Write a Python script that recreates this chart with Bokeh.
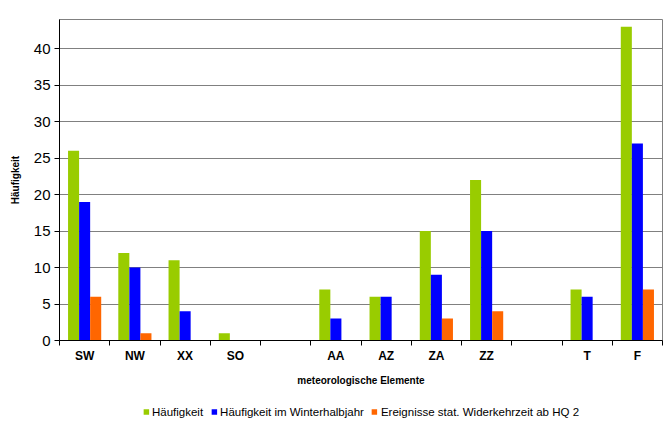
import numpy as np
from bokeh.plotting import figure
from bokeh.models import FixedTicker, Range1d, Legend, LegendItem
from bokeh.layouts import column
from bokeh.embed import file_html
from bokeh.resources import INLINE

categories = ["SW", "NW", "XX", "SO", "", "AA", "AZ", "ZA", "ZZ", "", "T", "F"]
haeufigkeit = [26, 12, 11, 1, 0, 7, 6, 15, 22, 0, 7, 43]
winter = [19, 10, 4, 0, 0, 3, 6, 9, 15, 0, 6, 27]
ereignisse = [6, 1, 0, 0, 0, 0, 0, 3, 4, 0, 0, 7]
series_names = ["Häufigkeit", "Häufigkeit im Winterhalbjahr", "Ereignisse stat. Widerkehrzeit ab HQ 2"]
colors = ["#99CC00", "#0000FF", "#FF6600"]
y_ticks = [0, 5, 10, 15, 20, 25, 30, 35, 40]

n = len(categories)
centers = np.arange(n) + 0.5
bw = 0.22

p = figure(frame_width=603, frame_height=321, output_backend="svg", toolbar_location=None,
           x_range=Range1d(0, n), y_range=Range1d(0, 44),
           min_border_left=59, min_border_top=19, min_border_right=5, min_border_bottom=50)

for off, vals, c in zip([-bw, 0, bw], [haeufigkeit, winter, ereignisse], colors):
    p.vbar(x=centers + off, top=vals, width=bw, bottom=0, fill_color=c, line_color=None)

# axes
p.xaxis.ticker = FixedTicker(ticks=list(centers), minor_ticks=list(np.arange(n + 1)))
p.xaxis.major_label_overrides = {float(c): lab for c, lab in zip(centers, categories)}
p.xaxis.major_tick_line_color = None
p.xaxis.minor_tick_in = 0
p.xaxis.minor_tick_out = 5
p.xaxis.minor_tick_line_color = "black"
p.xaxis.axis_line_color = "black"
p.xaxis.major_label_text_font = "Liberation Sans"
p.xaxis.major_label_text_font_style = "bold"
p.xaxis.major_label_text_font_size = "12px"
p.xaxis.major_label_text_color = "black"
p.xaxis.major_label_standoff = 2
p.xaxis.axis_label = "meteorologische Elemente"
p.xaxis.axis_label_text_font = "Liberation Sans"
p.xaxis.axis_label_text_font_style = "bold"
p.xaxis.axis_label_text_font_size = "10px"
p.xaxis.axis_label_text_color = "black"
p.xaxis.axis_label_standoff = 9

p.yaxis.ticker = FixedTicker(ticks=y_ticks)
p.yaxis.minor_tick_line_color = None
p.yaxis.major_tick_in = 0
p.yaxis.major_tick_out = 5
p.yaxis.major_tick_line_color = "black"
p.yaxis.axis_line_color = "black"
p.yaxis.major_label_text_font = "Liberation Sans"
p.yaxis.major_label_text_font_size = "15px"
p.yaxis.major_label_text_color = "black"
p.yaxis.major_label_standoff = 4
p.yaxis.axis_label = "Häufigkeit"
p.yaxis.axis_label_text_font = "Liberation Sans"
p.yaxis.axis_label_text_font_style = "bold"
p.yaxis.axis_label_text_font_size = "10px"
p.yaxis.axis_label_text_color = "black"
p.yaxis.axis_label_standoff = 10

p.xgrid.grid_line_color = None
p.ygrid.grid_line_color = "#808080"
p.ygrid.grid_line_width = 1
p.outline_line_color = "#808080"
p.outline_line_width = 1
p.background_fill_color = "white"
p.border_fill_color = "white"

# legend strip below the chart
lg = figure(width=667, height=43, output_backend="svg", toolbar_location=None,
            x_axis_location=None, y_axis_location=None,
            x_range=Range1d(0, 1), y_range=Range1d(0, 1),
            min_border_left=16, min_border_right=0, min_border_top=0, min_border_bottom=0)
lg.outline_line_color = None
lg.xgrid.grid_line_color = None
lg.ygrid.grid_line_color = None
items = []
for nm, c in zip(series_names, colors):
    r = lg.vbar(x=[-5], top=[-5], bottom=[-5], width=0.0, fill_color=c, line_color=None)
    items.append(LegendItem(label=nm, renderers=[r]))
legend = Legend(items=items, orientation="horizontal", location="center",
                label_text_font="Liberation Sans", label_text_font_size="11.5px",
                label_text_color="black",
                glyph_width=7, glyph_height=7, label_standoff=3, spacing=7,
                border_line_color=None, background_fill_alpha=0, margin=0, padding=0)
lg.add_layout(legend, "center")

layout = column(p, lg, spacing=0)
open("out.html", "w").write(file_html(layout, INLINE))
